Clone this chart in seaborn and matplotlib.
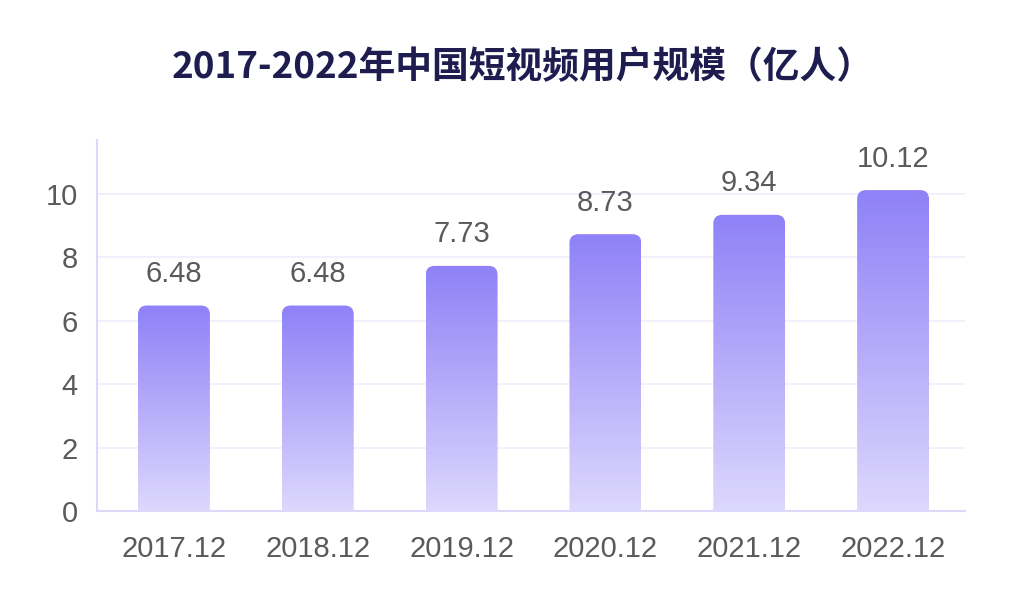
import numpy as np
import pandas as pd
import matplotlib
matplotlib.use("Agg")
import matplotlib.pyplot as plt
import seaborn as sns
from matplotlib.path import Path
from matplotlib.colors import LinearSegmentedColormap

# data
periods = ["2017.12", "2018.12", "2019.12", "2020.12", "2021.12", "2022.12"]
users = [6.48, 6.48, 7.73, 8.73, 9.34, 10.12]
y_ticks = [0, 2, 4, 6, 8, 10]
title = "2017-2022年中国短视频用户规模（亿人）"

sns.set_theme(style="white")
plt.rcParams['font.family'] = ['Liberation Sans', 'Noto Sans CJK SC', 'DejaVu Sans']

df = pd.DataFrame({'period': periods, 'users': users})

fig = plt.figure(figsize=(10.24, 5.93), dpi=100)
ax = fig.add_axes([97 / 1024, 1 - 511 / 593, 868 / 1024, (511 - 140) / 593])

sns.barplot(data=df, x='period', y='users', ax=ax, width=0.5, color='#9a8cf8')
xlim = (-0.535, len(periods) - 0.5)
ylim = (0, 11.7)
ax.set_xlim(*xlim)
ax.set_ylim(*ylim)

# gradient fill with rounded top corners
cmap = LinearSegmentedColormap.from_list('bar', ['#ddd8fd', '#b6acfa', '#8f81f7'])
grad = np.linspace(0, 1, 256).reshape(-1, 1)
p0 = ax.transData.transform((0, 0))
p1 = ax.transData.transform((1, 1))
rx = 9 / (p1[0] - p0[0])
ry = 9 / (p1[1] - p0[1])
for patch in ax.patches:
    x0 = patch.get_x()
    x1 = x0 + patch.get_width()
    h = patch.get_height()
    patch.set_visible(False)
    verts = [(x0, 0), (x0, h - ry), (x0, h), (x0 + rx, h), (x1 - rx, h),
             (x1, h), (x1, h - ry), (x1, 0), (x0, 0)]
    codes = [Path.MOVETO, Path.LINETO, Path.CURVE3, Path.CURVE3, Path.LINETO,
             Path.CURVE3, Path.CURVE3, Path.LINETO, Path.CLOSEPOLY]
    im = ax.imshow(grad, extent=[x0, x1, 0, h], origin='lower', aspect='auto',
                   cmap=cmap, zorder=2, interpolation='bicubic')
    im.set_clip_path(Path(verts, codes), ax.transData)

ax.set_xlim(*xlim)
ax.set_ylim(*ylim)

for i, v in enumerate(users):
    ax.text(i, v + 0.55, f'{v:.2f}', ha='center', va='bottom',
            fontsize=21, color='#5a5a5a')

ax.set_yticks(y_ticks)
ax.yaxis.grid(True, color='#f0eefc', lw=1.2)
ax.set_axisbelow(True)
for side in ['top', 'right']:
    ax.spines[side].set_visible(False)
for side in ['left', 'bottom']:
    ax.spines[side].set_color('#dcd8fa')
    ax.spines[side].set_linewidth(1.5)
ax.tick_params(axis='both', length=0, labelsize=21, labelcolor='#5a5a5a')
ax.tick_params(axis='y', pad=14)
ax.tick_params(axis='x', pad=17)
ax.set_xlabel('')
ax.set_ylabel('')

fig.text(0.51, 1 - 68 / 593, title, ha='center', va='center', fontsize=26.5,
         weight='bold', color='#1f1d4f',
         family=['Noto Sans CJK SC', 'DejaVu Sans'])

fig.savefig('out.png', dpi=100)
